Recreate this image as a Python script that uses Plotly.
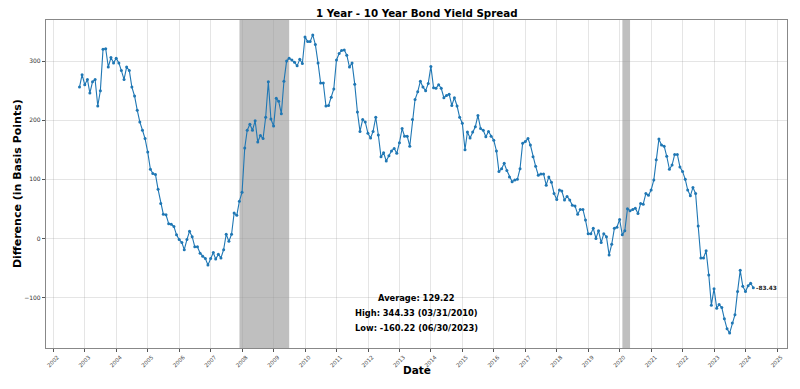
import pandas as pd
import plotly.graph_objects as go

# ---- data (monthly, end of month, Oct 2002 .. Mar 2024) ----
start_month = "2002-10-31"
spread_values = [
    256, 277, 260,                                                   # 2002 Oct-Dec
    269, 246, 265, 269, 224, 250, 320, 321, 290, 306, 297, 305,      # 2003
    297, 284, 269, 290, 284, 256, 241, 217, 197, 183, 169, 146,      # 2004
    117, 110, 108, 83, 59, 41, 40, 25, 24, 20, 6, -2,                # 2005
    -7, -19, -2, 12, 3, -14, -14, -25, -30, -34, -45, -34,           # 2006
    -24, -35, -27, -33, -19, 7, -5, 7, 43, 39, 63, 78,               # 2007
    153, 183, 193, 183, 199, 163, 174, 169, 205, 265, 202, 190,      # 2008
    237, 232, 211, 266, 300, 305, 302, 298, 292, 303, 296, 341,      # 2009
    333, 333, 344.33, 328, 297, 263, 263, 224, 225, 239, 253, 302,   # 2010
    313, 318, 319, 310, 290, 297, 261, 214, 181, 201, 197, 178,      # 2011
    170, 181, 205, 175, 138, 145, 131, 140, 148, 152, 144, 162,      # 2012
    186, 173, 173, 156, 201, 235, 248, 266, 256, 250, 262, 291,      # 2013
    255, 254, 260, 254, 238, 242, 244, 225, 238, 224, 205, 195,      # 2014
    150, 180, 170, 180, 189, 208, 186, 183, 172, 181, 173, 166,      # 2015
    148, 113, 118, 127, 115, 104, 96, 99, 100, 118, 161, 164,        # 2016
    169, 158, 138, 122, 107, 109, 109, 90, 104, 95, 76, 66,          # 2017
    82, 80, 65, 71, 65, 56, 55, 41, 49, 49, 31, 8,                   # 2018
    8, 17, 0, 13, -7, 8, 3, -28, -10, 17, 19, 32,                    # 2019
    6, 13, 50, 47, 49, 51, 42, 59, 58, 76, 73, 82,                   # 2020
    99, 133, 168, 158, 156, 139, 117, 124, 142, 142, 121, 113,       # 2021
    100, 82, 72, 86, 76, 21, -33, -33, -21, -62, -113, -85,          # 2022
    -118, -112, -117, -136, -153, -160.22, -143, -129, -90, -54, -81, -90,  # 2023
    -80, -76, -83.43,                                                # 2024 Jan-Mar
]
recession_starts = ["2007-12-01", "2020-02-01"]
recession_ends = ["2009-06-30", "2020-04-30"]
tick_years = list(range(2002, 2026))
title_text = "1 Year - 10 Year Bond Yield Spread"
stats_lines = ["Average: 129.22", "High: 344.33 (03/31/2010)", "Low: -160.22 (06/30/2023)"]
last_label = "-83.43"

dates = pd.date_range(start_month, periods=len(spread_values), freq="ME")

FONT = "DejaVu Sans"
fig = go.Figure()

for s, e in zip(recession_starts, recession_ends):
    fig.add_vrect(x0=s, x1=e, fillcolor="#bfbfbf", line_width=0, layer="below")

fig.add_trace(go.Scatter(
    x=dates, y=spread_values, mode="lines+markers",
    line=dict(color="#1f77b4", width=1.1),
    marker=dict(color="#1f77b4", size=3),
    showlegend=False, hoverinfo="x+y",
))

tickvals = [pd.Timestamp(f"{y}-01-01") for y in tick_years]
fig.update_xaxes(
    range=["2001-10-07", "2025-04-26"],
    tickvals=tickvals, ticktext=[str(y) for y in tick_years],
    tickangle=-45, tickfont=dict(family=FONT, size=5.5, color="#444"),
    ticklabelshift=4,
    ticks="outside", ticklen=3, tickcolor="#555",
    showgrid=True, gridcolor="rgba(150,150,150,0.25)", gridwidth=1,
    showline=True, linecolor="#888", linewidth=1.2, mirror=True,
    zeroline=False, automargin=False,
)
fig.update_yaxes(
    range=[-185.45, 369.56],
    tickvals=[-100, 0, 100, 200, 300],
    tickfont=dict(family=FONT, size=6, color="#333"),
    ticks="outside", ticklen=3, tickcolor="#555",
    showgrid=True, gridcolor="rgba(150,150,150,0.25)", gridwidth=1,
    showline=True, linecolor="#888", linewidth=1.2, mirror=True,
    zeroline=False, automargin=False,
)

ann = []
ann.append(dict(text=f"<b>{title_text}</b>", xref="paper", yref="paper",
                x=0.5, y=1.0205, xanchor="center", yanchor="middle",
                showarrow=False, font=dict(family=FONT, size=10.3, color="black")))
ann.append(dict(text="<b>Date</b>", xref="paper", yref="paper",
                x=0.5, y=-0.067, xanchor="center", yanchor="middle",
                showarrow=False, font=dict(family=FONT, size=10.5, color="black")))
ann.append(dict(text="<b>Difference (in Basis Points)</b>", xref="paper", yref="paper",
                x=-0.039, y=0.5, xanchor="center", yanchor="middle", textangle=-90,
                showarrow=False, font=dict(family=FONT, size=11, color="black")))
for line, yy in zip(stats_lines, [0.1515, 0.1058, 0.0619]):
    ann.append(dict(text=f"<b>{line}</b>", xref="paper", yref="paper",
                    x=0.5, y=yy, xanchor="center", yanchor="middle",
                    showarrow=False, font=dict(family=FONT, size=8.3, color="black")))
ann.append(dict(text=f"<b>{last_label}</b>", x=dates[-1], y=spread_values[-1],
                xref="x", yref="y", xanchor="left", yanchor="middle", xshift=1,
                showarrow=False, font=dict(family=FONT, size=5.8, color="#222")))

# page body has an 8px margin, so the figure is 784x373 and offset by 8px
fig.update_layout(
    width=784, height=373,
    margin=dict(l=38, r=5, t=12, b=33),
    paper_bgcolor="white", plot_bgcolor="white",
    annotations=ann,
    font=dict(family=FONT),
)

fig.write_html("out.html")
